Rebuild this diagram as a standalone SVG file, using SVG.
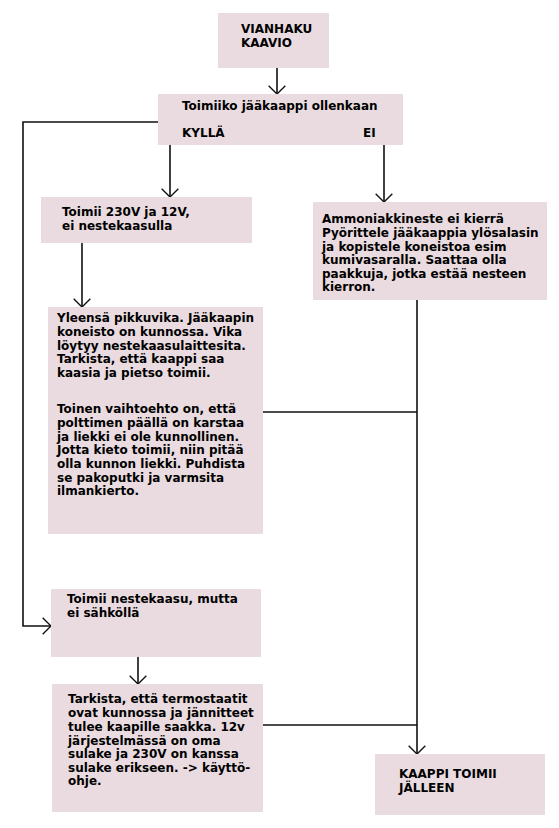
<svg xmlns="http://www.w3.org/2000/svg" width="559" height="828" viewBox="0 0 559 828">
<style>
.box{fill:#e9dbdf}
.t{font-family:"DejaVu Sans","Liberation Sans",Arial,sans-serif;font-weight:bold;font-size:12px;fill:#000}
.c{fill:none;stroke:#111;stroke-width:1.6}
</style>
<defs>
<marker id="ah" markerUnits="userSpaceOnUse" markerWidth="20" markerHeight="20" refX="0" refY="0" viewBox="-12 -12 24 24" orient="auto">
<path d="M-10,-10 L0,0 L-10,10" fill="none" stroke="#111" stroke-width="1.6"/>
</marker>
</defs>
<rect width="559" height="828" fill="#fff"/>
<g id="connectors">
<path class="c" d="M277,68 V94" marker-end="url(#ah)"/>
<path class="c" d="M170,145 V197" marker-end="url(#ah)"/>
<path class="c" d="M384,145 V202" marker-end="url(#ah)"/>
<path class="c" d="M82,243 V307" marker-end="url(#ah)"/>
<path class="c" d="M158,122 H23 V626 H51" marker-end="url(#ah)"/>
<path class="c" d="M138,657 V684" marker-end="url(#ah)"/>
<path class="c" d="M417,300 V754" marker-end="url(#ah)"/>
<path class="c" d="M263,412 H417"/>
<path class="c" d="M263,725 H417"/>
</g>
<g id="n1">
<rect class="box" x="218" y="13" width="111" height="55"/>
<text class="t" x="241" y="33">VIANHAKU</text>
<text class="t" x="241" y="47">KAAVIO</text>
</g>
<g id="n2">
<rect class="box" x="158" y="94" width="245" height="51"/>
<text class="t" x="182" y="110">Toimiiko jääkaappi ollenkaan</text>
<text class="t" x="182" y="137">KYLLÄ</text>
<text class="t" x="363" y="137">EI</text>
</g>
<g id="n3">
<rect class="box" x="41" y="197" width="211" height="46"/>
<text class="t" x="62" y="216">Toimii 230V ja 12V,</text>
<text class="t" x="62" y="230">ei nestekaasulla</text>
</g>
<g id="n5">
<rect class="box" x="313" y="202" width="234" height="98"/>
<text class="t" x="322" y="223">Ammoniakkineste ei kierrä</text>
<text class="t" x="322" y="237">Pyörittele jääkaappia ylösalasin</text>
<text class="t" x="322" y="251">ja kopistele koneistoa esim</text>
<text class="t" x="322" y="264">kumivasaralla. Saattaa olla</text>
<text class="t" x="322" y="278">paakkuja, jotka estää nesteen</text>
<text class="t" x="322" y="291">kierron.</text>
</g>
<g id="n4">
<rect class="box" x="48" y="307" width="215" height="227"/>
<text class="t" x="57" y="322">Yleensä pikkuvika. Jääkaapin</text>
<text class="t" x="57" y="336">koneisto on kunnossa. Vika</text>
<text class="t" x="57" y="350">löytyy nestekaasulaittesita.</text>
<text class="t" x="57" y="363">Tarkista, että kaappi saa</text>
<text class="t" x="57" y="377">kaasia ja pietso toimii.</text>
<text class="t" x="57" y="413">Toinen vaihtoehto on, että</text>
<text class="t" x="57" y="427">polttimen päällä on karstaa</text>
<text class="t" x="57" y="441">ja liekki ei ole kunnollinen.</text>
<text class="t" x="57" y="454">Jotta kieto toimii, niin pitää</text>
<text class="t" x="57" y="468">olla kunnon liekki. Puhdista</text>
<text class="t" x="57" y="482">se pakoputki ja varmsita</text>
<text class="t" x="57" y="495">ilmankierto.</text>
</g>
<g id="n7">
<rect class="box" x="51" y="589" width="210" height="68"/>
<text class="t" x="67" y="603">Toimii nestekaasu, mutta</text>
<text class="t" x="67" y="617">ei sähköllä</text>
</g>
<g id="n8">
<rect class="box" x="52" y="684" width="211" height="128"/>
<text class="t" x="68" y="703">Tarkista, että termostaatit</text>
<text class="t" x="68" y="717">ovat kunnossa ja jännitteet</text>
<text class="t" x="68" y="731">tulee kaapille saakka. 12v</text>
<text class="t" x="68" y="745">järjestelmässä on oma</text>
<text class="t" x="68" y="758">sulake ja 230V on kanssa</text>
<text class="t" x="68" y="772">sulake erikseen. -&gt; käyttö-</text>
<text class="t" x="68" y="785">ohje.</text>
</g>
<g id="n6">
<rect class="box" x="375" y="754" width="170" height="61"/>
<text class="t" x="399" y="778">KAAPPI TOIMII</text>
<text class="t" x="399" y="792">JÄLLEEN</text>
</g>
</svg>
